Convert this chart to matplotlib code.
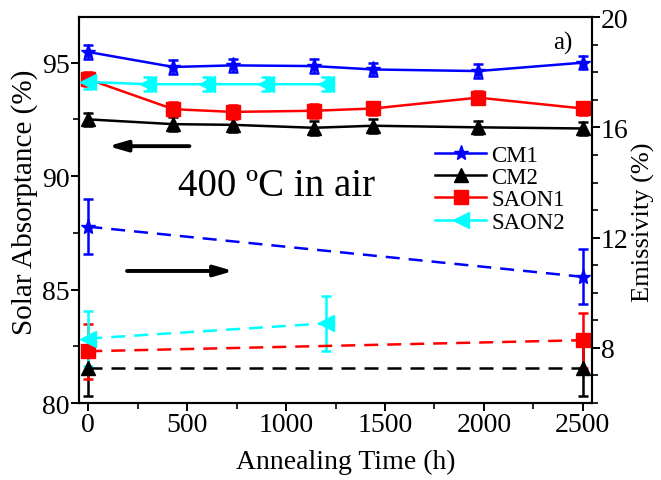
import matplotlib
matplotlib.use("Agg")
import matplotlib.pyplot as plt
from matplotlib.ticker import MultipleLocator
from matplotlib.lines import Line2D

plt.rcParams['font.family'] = ['Liberation Serif', 'DejaVu Serif']
plt.rcParams['mathtext.fontset'] = 'stix'

# Solar absorptance (left axis)
t_cm = [0, 430, 730, 1140, 1440, 1970, 2500]
a_cm1 = [95.47, 94.81, 94.88, 94.85, 94.70, 94.63, 95.00]
a_cm2 = [92.50, 92.29, 92.26, 92.13, 92.22, 92.15, 92.10]
a_saon1 = [94.27, 92.95, 92.83, 92.88, 92.98, 93.46, 92.98]
t_saon2 = [0, 300, 600, 900, 1200]
a_saon2 = [94.15, 94.05, 94.05, 94.05, 94.05]
a_err = 0.3

# Emissivity (right axis)
t_e = [0, 2500]
e_cm1 = [12.4, 10.58]
e_cm2 = [7.27, 7.27]
e_saon1 = [7.88, 8.28]
t_e2 = [0, 1200]
e_saon2 = [8.34, 8.89]
e_err = 1.0

labels = ['CM1', 'CM2', 'SAON1', 'SAON2']

fig = plt.figure(figsize=(6.61, 4.81), dpi=100)
ax = fig.add_axes([0.1195, 0.160, 0.7757, 0.802])
ax2 = ax.twinx()

blue, black, red, cyan = '#0000FF', '#000000', '#FF0000', '#00FFFF'
kw = dict(lw=1.8, capsize=3.8, elinewidth=1.8, capthick=1.8)
styles = [(blue, '*', 11), (black, '^', 10.5), (red, 's', 10), (cyan, '<', 12)]

ax.errorbar(t_cm, a_cm1, yerr=a_err, color=blue, marker='*', ms=11, **kw)
ax.errorbar(t_cm, a_cm2, yerr=a_err, color=black, marker='^', ms=10.5, **kw)
ax.errorbar(t_cm, a_saon1, yerr=a_err, color=red, marker='s', ms=10, **kw)
ax.errorbar(t_saon2, a_saon2, yerr=a_err, color=cyan, marker='<', ms=12, **kw)

dkw = dict(ls='--', dashes=(5.6, 3.6))
ax2.errorbar(t_e, e_cm1, yerr=e_err, color=blue, marker='*', ms=11, **dkw, **kw)
ax2.errorbar(t_e, e_cm2, yerr=e_err, color=black, marker='^', ms=10.5, **dkw, **kw)
ax2.errorbar(t_e, e_saon1, yerr=e_err, color=red, marker='s', ms=10, **dkw, **kw)
ax2.errorbar(t_e2, e_saon2, yerr=e_err, color=cyan, marker='<', ms=12, **dkw, **kw)

ax.set_xlim(-47, 2545)
ax.set_ylim(80, 97.0)
ax2.set_ylim(6, 20)

ax.xaxis.set_major_locator(MultipleLocator(500))
ax.xaxis.set_minor_locator(MultipleLocator(250))
ax.yaxis.set_major_locator(MultipleLocator(5))
ax.yaxis.set_minor_locator(MultipleLocator(2.5))
ax2.yaxis.set_major_locator(MultipleLocator(4))
ax2.yaxis.set_minor_locator(MultipleLocator(1))

for a in (ax, ax2):
    for s in a.spines.values():
        s.set_linewidth(1.5)
    a.tick_params(which='major', length=5.5, width=1.4, labelsize=20, direction='out', pad=1)
    a.tick_params(which='minor', length=4, width=1.2, direction='out')

ax.set_xlabel('Annealing Time (h)', fontsize=20)
ax.xaxis.set_label_coords(0.52, -0.118)
ax.set_ylabel('Solar Absorptance (%)', fontsize=21)
ax.yaxis.set_label_coords(-0.079, 0.524)
ax2.set_ylabel('Emissivity (%)', fontsize=19)
ax2.yaxis.set_label_coords(1.078, 0.47)

ax.text(0.1937, 0.539, '400 ºC in air', transform=ax.transAxes, fontsize=28, ha='left', va='baseline')
ax.text(0.963, 0.918, 'a)', transform=ax.transAxes, fontsize=18, ha='right', va='baseline')

ax.annotate('', xy=(101, 91.32), xytext=(511, 91.32),
            arrowprops=dict(arrowstyle='-|>,head_length=1.1,head_width=0.32', lw=2.8, color='black',
                            shrinkA=0, shrinkB=0))
ax.annotate('', xy=(733, 85.82), xytext=(196, 85.82),
            arrowprops=dict(arrowstyle='-|>,head_length=1.1,head_width=0.32', lw=2.8, color='black',
                            shrinkA=0, shrinkB=0))

handles = [Line2D([], [], color=c, marker=m, ms=ms, lw=1.8) for c, m, ms in styles]
leg = ax.legend(handles, labels, loc='upper left', bbox_to_anchor=(0.694, 0.669),
                frameon=False, fontsize=16.5, handlelength=2.25, labelspacing=0.05, borderpad=0.0,
                handletextpad=0.22, borderaxespad=0)

fig.savefig('out.png', dpi=100)
